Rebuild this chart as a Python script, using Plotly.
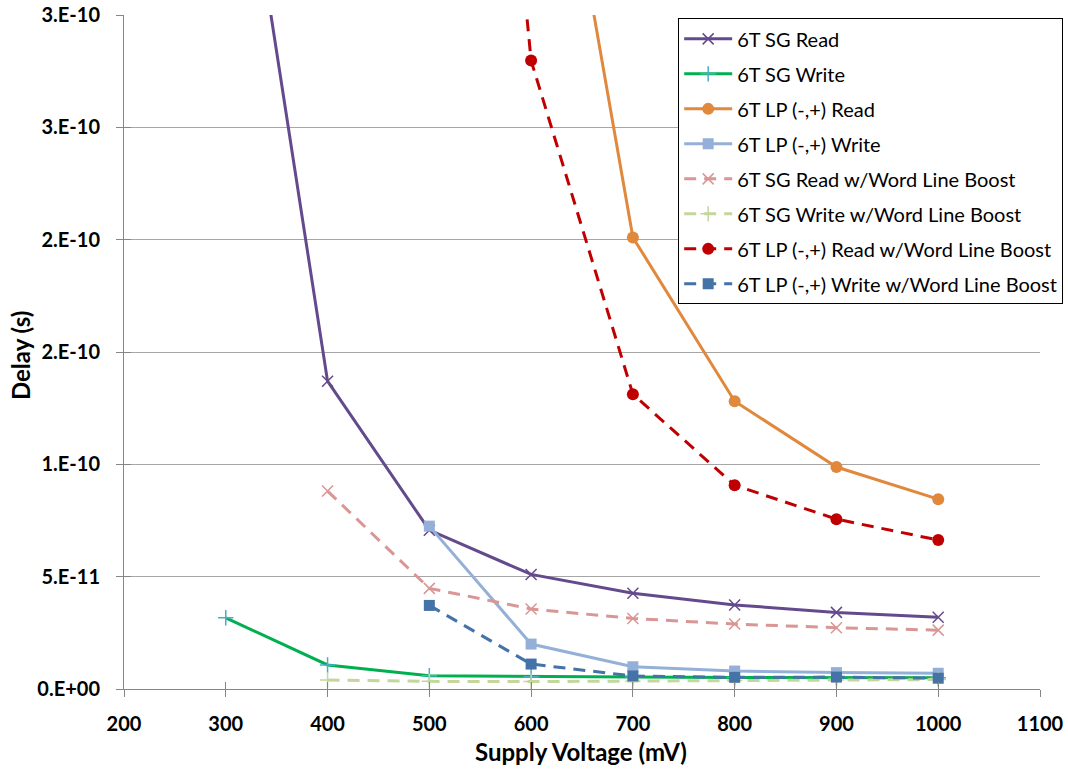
import plotly.graph_objects as go

# Supply voltage sweep (mV)
v_sg_read = [300, 400, 500, 600, 700, 800, 900, 1000]
v_sg_write = [300, 400, 500, 600, 700, 800, 900, 1000]
v_lp_read = [600, 700, 800, 900, 1000]
v_lp_write = [500, 600, 700, 800, 900, 1000]
v_sg_read_wlb = [400, 500, 600, 700, 800, 900, 1000]
v_sg_write_wlb = [400, 500, 600, 700, 800, 900, 1000]
v_lp_read_wlb = [500, 600, 700, 800, 900, 1000]
v_lp_write_wlb = [500, 600, 700, 800, 900, 1000]

# Delay (s)
d_sg_read = [4.3e-10, 1.37e-10, 7.07e-11, 5.10e-11, 4.26e-11, 3.74e-11, 3.41e-11, 3.19e-11]
d_sg_write = [3.17e-11, 1.07e-11, 5.9e-12, 5.5e-12, 5.3e-12, 5.1e-12, 5.0e-12, 5.0e-12]
d_lp_read = [4.6e-10, 2.01e-10, 1.281e-10, 9.88e-11, 8.45e-11]
d_lp_write = [7.25e-11, 2.0e-11, 9.9e-12, 8.0e-12, 7.3e-12, 7.0e-12]
d_sg_read_wlb = [8.81e-11, 4.48e-11, 3.56e-11, 3.14e-11, 2.89e-11, 2.73e-11, 2.62e-11]
d_sg_write_wlb = [4.0e-12, 3.4e-12, 3.3e-12, 3.5e-12, 3.8e-12, 4.0e-12, 4.2e-12]
d_lp_read_wlb = [7.5e-10, 2.797e-10, 1.312e-10, 9.07e-11, 7.56e-11, 6.63e-11]
d_lp_write_wlb = [3.72e-11, 1.11e-11, 5.8e-12, 5.2e-12, 5.3e-12, 4.8e-12]

x_ticks = [200, 300, 400, 500, 600, 700, 800, 900, 1000, 1100]
y_tick_vals = [0, 5e-11, 1e-10, 1.5e-10, 2e-10, 2.5e-10, 3e-10]
y_tick_text = ["0.E+00", "5.E-11", "1.E-10", "2.E-10", "2.E-10", "3.E-10", "3.E-10"]

FONT = "Lato"
DASH = "12px,8px"

series = [
    dict(name="6T SG Read", x=v_sg_read, y=d_sg_read, color="#644A8C",
         symbol="x-thin", size=11, mcolor="#644A8C", dash="solid"),
    dict(name="6T SG Write", x=v_sg_write, y=d_sg_write, color="#00B050",
         symbol="cross-thin", size=11, mcolor="#4BACC6", dash="solid"),
    dict(name="6T LP (-,+) Read", x=v_lp_read, y=d_lp_read, color="#E0883C",
         symbol="circle", size=12, mcolor="#E0883C", dash="solid"),
    dict(name="6T LP (-,+) Write", x=v_lp_write, y=d_lp_write, color="#95B0D8",
         symbol="square", size=11, mcolor="#95B0D8", dash="solid"),
    dict(name="6T SG Read w/Word Line Boost", x=v_sg_read_wlb, y=d_sg_read_wlb,
         color="#D99694", symbol="x-thin", size=11, mcolor="#D99694", dash=DASH),
    dict(name="6T SG Write w/Word Line Boost", x=v_sg_write_wlb, y=d_sg_write_wlb,
         color="#C3D69B", symbol="cross-thin", size=11, mcolor="#C3D69B", dash=DASH),
    dict(name="6T LP (-,+) Read w/Word Line Boost", x=v_lp_read_wlb, y=d_lp_read_wlb,
         color="#C00000", symbol="circle", size=12, mcolor="#C00000", dash=DASH),
    dict(name="6T LP (-,+) Write w/Word Line Boost", x=v_lp_write_wlb, y=d_lp_write_wlb,
         color="#4572A7", symbol="square", size=11, mcolor="#4572A7", dash=DASH),
]

fig = go.Figure()
for s in series:
    thin = s["symbol"].endswith("thin")
    fig.add_trace(go.Scatter(
        x=s["x"], y=s["y"], name=s["name"], mode="lines+markers",
        legendgroup=s["name"],
        line=dict(color=s["color"], width=3, dash=s["dash"]),
        marker=dict(
            symbol=s["symbol"], size=s["size"],
            color=s["mcolor"],
            line=dict(color=s["mcolor"], width=1.5 if thin else 0),
        ),
        cliponaxis=True,
    ))

axis_line = "#868686"
TICK_SIZE = 20
TITLE_SIZE = 24
fig.update_layout(
    width=1068, height=769,
    margin=dict(l=124, r=28, t=15, b=80, autoexpand=False),
    paper_bgcolor="white", plot_bgcolor="white",
    font=dict(family=FONT, size=TICK_SIZE, color="black"),
    showlegend=True,
    legend=dict(
        x=0.605, y=0.995, xanchor="left", yanchor="top",
        bgcolor="white", bordercolor="black", borderwidth=1,
        font=dict(family=FONT, size=20, color="black"),
        tracegroupgap=6, itemwidth=48,
    ),
    xaxis=dict(
        range=[200, 1100], tickvals=x_ticks, ticktext=[str(t) for t in x_ticks],
        showgrid=False, zeroline=False, automargin=False,
        showline=True, linecolor=axis_line, linewidth=1,
        ticks="outside", ticklen=7, tickcolor=axis_line,
        ticklabelstandoff=10,
        tickfont=dict(family=FONT, size=TICK_SIZE, weight="bold"),
    ),
    yaxis=dict(
        range=[0, 3e-10], tickvals=y_tick_vals, ticktext=y_tick_text,
        showgrid=True, gridcolor="#A6A6A6", gridwidth=1, zeroline=False,
        automargin=False,
        showline=True, linecolor=axis_line, linewidth=1,
        ticks="outside", ticklen=7, tickcolor=axis_line,
        ticklabelstandoff=12,
        tickfont=dict(family=FONT, size=TICK_SIZE, weight="bold"),
    ),
    xaxis2=dict(
        overlaying="x", matches="x", range=[200, 1100], tickvals=x_ticks,
        showticklabels=False, showgrid=False, zeroline=False, showline=False,
        ticks="inside", ticklen=7, tickcolor=axis_line, side="bottom",
        automargin=False,
    ),
    yaxis2=dict(
        overlaying="y", matches="y", range=[0, 3e-10], tickvals=y_tick_vals,
        showticklabels=False, showgrid=False, zeroline=False, showline=False,
        ticks="inside", ticklen=7, tickcolor=axis_line, side="left",
        automargin=False,
    ),
    annotations=[
        dict(text="<b>Supply Voltage (mV)</b>", xref="paper", yref="paper",
             x=0.499, y=-0.093, xanchor="center", yanchor="middle",
             showarrow=False, font=dict(family=FONT, size=TITLE_SIZE)),
        dict(text="<b>Delay (s)</b>", xref="paper", yref="paper",
             x=-0.1135, y=0.494, xanchor="center", yanchor="middle", textangle=-90,
             showarrow=False, font=dict(family=FONT, size=TITLE_SIZE)),
    ],
)

# Invisible trace so the overlaid tick axes are rendered
fig.add_trace(go.Scatter(x=[200], y=[0], xaxis="x2", yaxis="y2", mode="markers",
                         marker=dict(opacity=0), showlegend=False, hoverinfo="skip"))

fig.write_html("out.html")
